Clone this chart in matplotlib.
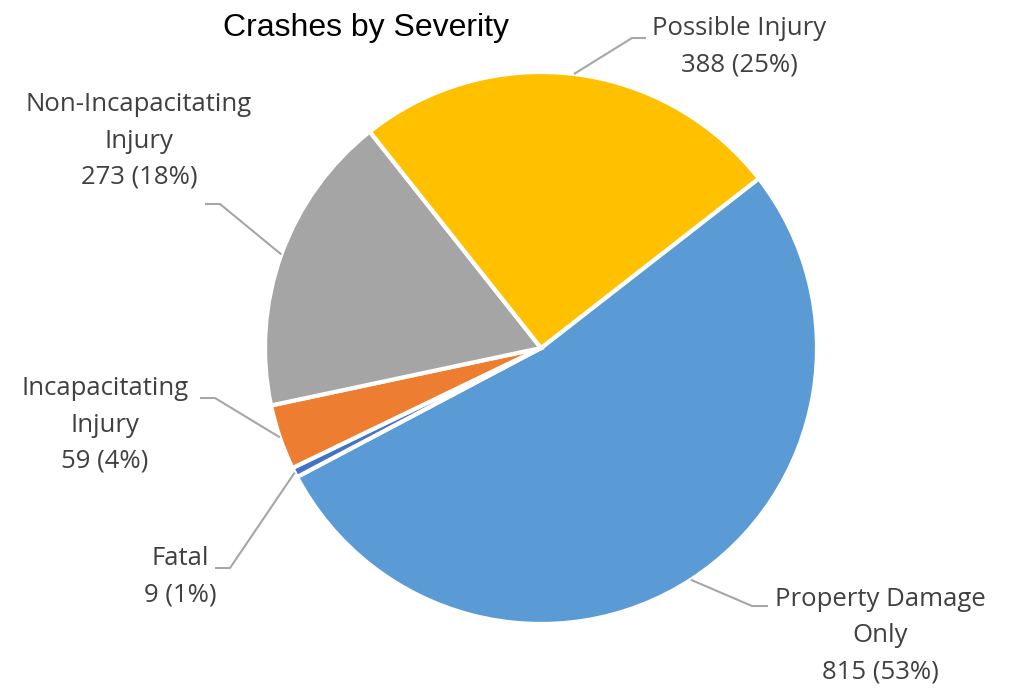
import numpy as np
import matplotlib.pyplot as plt

# data
categories = ['Property Damage\nOnly', 'Fatal', 'Incapacitating\nInjury',
              'Non-Incapacitating\nInjury', 'Possible Injury']
counts = [815, 9, 59, 273, 388]
colors = ['#5B9BD5', '#4472C4', '#ED7D31', '#A5A5A5', '#FFC000']

W, H = 1013, 698
fig = plt.figure(figsize=(W / 100, H / 100), dpi=100)
ax = fig.add_axes([0, 0, 1, 1])

cx, cy, r = 541, H - 348, 276
start = 37.9
wedges, _ = ax.pie(counts, colors=colors, startangle=start, counterclock=False,
                   center=(cx, cy), radius=r, frame=True,
                   wedgeprops=dict(edgecolor='white', linewidth=3))
ax.set_xlim(0, W)
ax.set_ylim(0, H)
ax.set_aspect('equal')
ax.axis('off')

total = sum(counts)
# label layout: (text center x, text center y, elbow x, elbow y, end x) in pixels
layout = [
    (880, 636, 752, 606, 768),
    (180, 577, 230, 568, 215),
    (105, 425, 215, 398, 200),
    (139, 141, 220, 204, 205),
    (739, 47, 632, 38, 646),
]
font = ['Open Sans', 'DejaVu Sans']
for w, name, n, (tx, ty, ex, ey, endx) in zip(wedges, categories, counts, layout):
    mid = np.deg2rad((w.theta1 + w.theta2) / 2)
    px, py = cx + r * np.cos(mid), cy + r * np.sin(mid)
    ax.plot([px, ex, endx], [py, H - ey, H - ey], color='#A6A6A6', lw=1.5,
            solid_capstyle='butt')
    pct = round(100 * n / total)
    ax.text(tx, H - ty, f'{name}\n{n} ({pct}%)', ha='center', va='center',
            multialignment='center', fontsize=18.5, color='#404040',
            family=font, linespacing=1.6)

ax.text(366, H - 28, 'Crashes by Severity', ha='center', va='center',
        fontsize=23, family=['Liberation Sans', 'DejaVu Sans'], color='black')

fig.savefig('out.png', dpi=100)
